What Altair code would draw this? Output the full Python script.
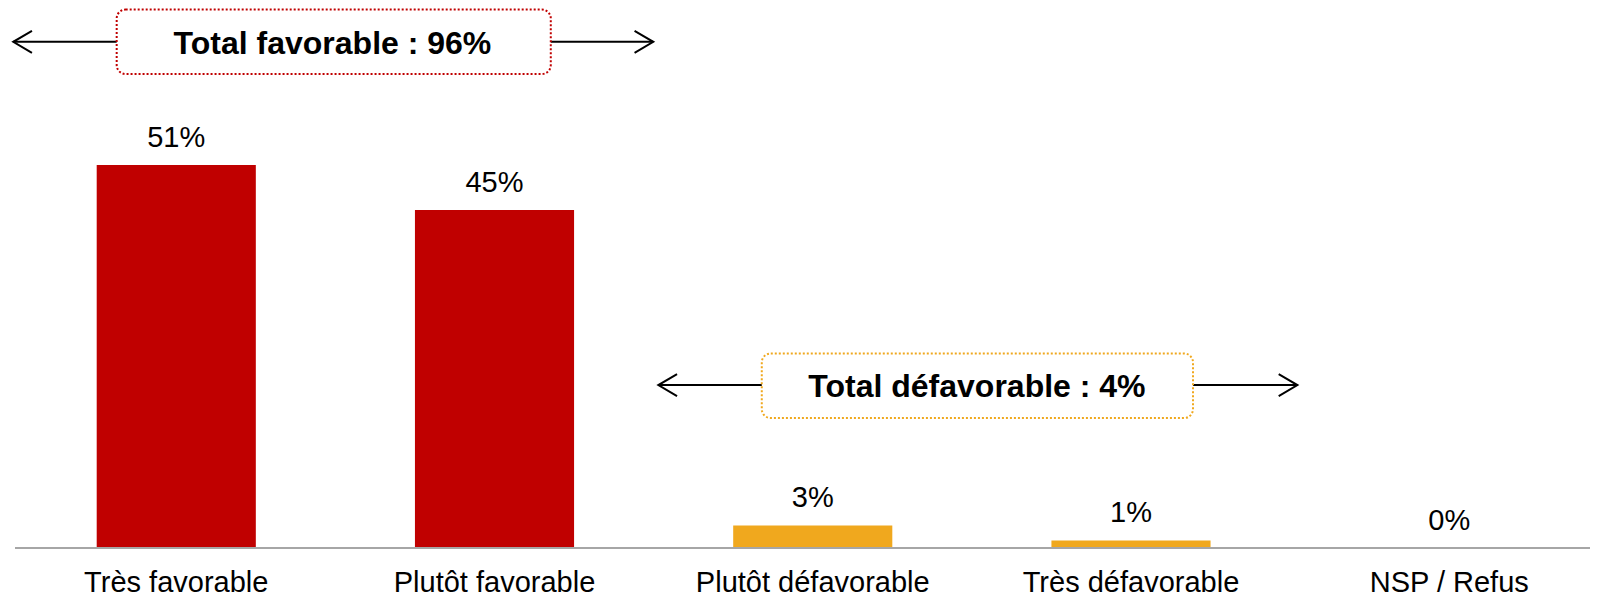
import altair as alt
import pandas as pd

FONT = "Liberation Sans"

# Bars
categories = ["Très favorable", "Plutôt favorable", "Plutôt défavorable", "Très défavorable", "NSP / Refus"]
values = [51, 45, 3, 1, 0]
value_labels = ["51%", "45%", "3%", "1%", "0%"]
groups = ["fav", "fav", "defav", "defav", "nsp"]

# Annotations (x in category-index units, y in % units)
ann_text = ["Total favorable : 96%", "Total défavorable : 4%"]
ann_color = ["#C00000", "#F0A81E"]
ann_arrow_lo = [-0.512, 1.515]
ann_arrow_hi = [1.499, 3.523]
ann_box_lo = [-0.187, 1.840]
ann_box_hi = [1.177, 3.195]
ann_text_x = [0.491, 2.516]
ann_box_top = [71.7, 25.9]
ann_box_bot = [63.1, 17.3]
ann_arrow_y = [67.4, 21.7]
ann_text_y = [65.8, 20.1]

bar_df = pd.DataFrame({"cat": categories, "value": values, "label": value_labels, "group": groups})
ann_df = pd.DataFrame({
    "text": ann_text, "color": ann_color,
    "arrow_lo": ann_arrow_lo, "arrow_hi": ann_arrow_hi,
    "box_lo": ann_box_lo, "box_hi": ann_box_hi, "text_x": ann_text_x,
    "box_top": ann_box_top, "box_bot": ann_box_bot,
    "arrow_y": ann_arrow_y, "text_y": ann_text_y,
})
base_df = pd.DataFrame({"v": [0]})

W = 1582
YS = alt.Scale(domain=[0, 71.9], nice=False, zero=True)
XB = alt.X("cat:N", sort=categories,
           scale=alt.Scale(range=[88.7, 1520.8], paddingInner=0.5, paddingOuter=0),
           axis=alt.Axis(labelFontSize=29, labelFont=FONT, labelColor="black",
                         labelBaseline="alphabetic", labelPadding=43, ticks=False, tickSize=0,
                         domain=False, labelAngle=0, title=None, labelLimit=400,
                         labelOverlap=False, grid=False))

bars = alt.Chart(bar_df).mark_bar().encode(
    x=XB,
    y=alt.Y("value:Q", scale=YS, axis=None),
    color=alt.Color("group:N", scale=alt.Scale(domain=["fav", "defav", "nsp"],
                                                range=["#C00000", "#F0A81E", "#F0A81E"]), legend=None),
)
bar_text = alt.Chart(bar_df).mark_text(baseline="alphabetic", dy=-18, fontSize=29, font=FONT,
                                       color="black").encode(
    x=XB,
    y=alt.Y("value:Q", scale=YS, axis=None),
    text="label:N",
)
baseline = alt.Chart(base_df).mark_rule(color="#A6A6A6", strokeWidth=2).encode(
    x=alt.value(7), x2=alt.value(W), y=alt.Y("v:Q", scale=YS, axis=None)
)
band_layer = alt.layer(bars, bar_text, baseline)

XS = alt.Scale(domain=[0, 4], range=[168.2, 1441.2], nice=False, zero=False)
ann = alt.Chart(ann_df)
shaft = ann.mark_rule(color="black", strokeWidth=2).encode(
    x=alt.X("arrow_lo:Q", scale=XS, axis=None), x2="arrow_hi:Q",
    y=alt.Y("arrow_y:Q", scale=YS, axis=None),
)
head_l = ann.mark_point(shape="M1.7,-1L0,0L1.7,1", size=484, filled=False, color="black",
                        strokeWidth=2, opacity=1).encode(
    x=alt.X("arrow_lo:Q", scale=XS, axis=None),
    y=alt.Y("arrow_y:Q", scale=YS, axis=None),
)
head_r = ann.mark_point(shape="M-1.7,-1L0,0L-1.7,1", size=484, filled=False, color="black",
                        strokeWidth=2, opacity=1).encode(
    x=alt.X("arrow_hi:Q", scale=XS, axis=None),
    y=alt.Y("arrow_y:Q", scale=YS, axis=None),
)
box = ann.mark_rect(fill="white", strokeWidth=2, strokeDash=[2, 2], cornerRadius=9).encode(
    x=alt.X("box_lo:Q", scale=XS, axis=None), x2="box_hi:Q",
    y=alt.Y("box_top:Q", scale=YS, axis=None), y2="box_bot:Q",
    stroke=alt.Stroke("color:N", scale=None),
)
ann_txt = ann.mark_text(baseline="alphabetic", align="center", fontSize=32, fontWeight="bold",
                        font=FONT, color="black").encode(
    x=alt.X("text_x:Q", scale=XS, axis=None),
    y=alt.Y("text_y:Q", scale=YS, axis=None),
    text="text:N",
)
ann_layer = alt.layer(shaft, head_l, head_r, box, ann_txt)

chart = alt.layer(band_layer, ann_layer).resolve_scale(x="independent").properties(
    width=W, height=540,
    padding={"left": 0, "top": 0, "right": 0, "bottom": 51},
    autosize=alt.AutoSizeParams(type="none"),
    background="white",
).configure_view(stroke=None)

chart.save("out.html", embed_options={"renderer": "svg", "actions": False})
